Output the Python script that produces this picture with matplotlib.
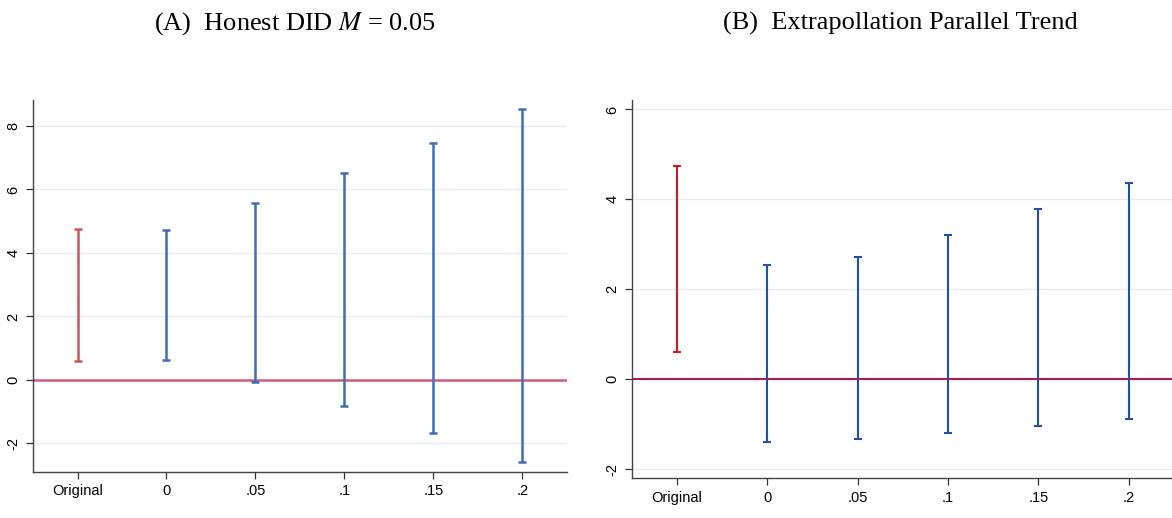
import matplotlib
matplotlib.use("Agg")
import matplotlib.pyplot as plt
import numpy as np

# Data (confidence interval bounds).
labels = ['Original', '0', '.05', '.1', '.15', '.2']

a_lower = [0.61, 0.63, -0.08, -0.83, -1.68, -2.58]
a_upper = [4.76, 4.72, 5.57, 6.52, 7.47, 8.55]

b_lower = [0.60, -1.39, -1.33, -1.19, -1.03, -0.88]
b_upper = [4.74, 2.55, 2.72, 3.20, 3.78, 4.36]

a_ticks = [-2, 0, 2, 4, 6, 8]
b_ticks = [-2, 0, 2, 4, 6]

plt.rcParams['font.family'] = ['Liberation Sans', 'DejaVu Sans']
plt.rcParams['mathtext.fontset'] = 'stix'

fig = plt.figure(figsize=(11.72, 5.18), dpi=100)
ax_a = fig.add_axes([0.0282, 0.0894, 0.4554, 0.7176])
ax_b = fig.add_axes([0.539, 0.0766, 0.4627, 0.7303])


def draw_panel(ax, lower, upper, ticks, ylim, c_orig, c_rest, c_zero, lw):
    x = np.arange(len(labels))
    lower = np.array(lower)
    upper = np.array(upper)
    colors = [c_orig] + [c_rest] * (len(labels) - 1)
    for xi, lo, hi, c in zip(x, lower, upper, colors):
        ax.vlines(xi, lo, hi, color=c, lw=lw, zorder=3)
        ax.hlines([lo, hi], xi - 0.045, xi + 0.045, color=c, lw=lw, zorder=3)
    ax.axhline(0, color=c_zero, lw=lw, zorder=2)
    for t in ticks:
        if t != 0:
            ax.axhline(t, color='#e6eef0', lw=1.0, zorder=1)
    ax.set_xlim(-0.5, len(labels) - 0.5)
    ax.set_ylim(*ylim)
    ax.set_xticks(x)
    ax.set_xticklabels(labels, fontsize=10.5)
    ax.set_yticks(ticks)
    ax.set_yticklabels([str(t) for t in ticks], fontsize=10.5, rotation=90, va='center')
    ax.tick_params(direction='out', length=5, width=0.9, colors='#333333', labelcolor='black', pad=4)
    for side in ['top', 'right']:
        ax.spines[side].set_visible(False)
    for side in ['left', 'bottom']:
        ax.spines[side].set_color('#444444')
        ax.spines[side].set_linewidth(1.0)


draw_panel(ax_a, a_lower, a_upper, a_ticks, (-2.89, 8.82),
           '#c8585a', '#3f6db4', '#d25a78', 1.8)
draw_panel(ax_b, b_lower, b_upper, b_ticks, (-2.2, 6.21),
           '#c81e22', '#2150a8', '#b8174a', 1.5)

fig.text(0.252, 0.955, r'(A)  Honest DID $M$ = 0.05', ha='center', va='center',
         fontsize=19, family=['Liberation Serif', 'DejaVu Serif'])
fig.text(0.768, 0.955, '(B)  Extrapollation Parallel Trend', ha='center', va='center',
         fontsize=19, family=['Liberation Serif', 'DejaVu Serif'])

fig.savefig('out.png', dpi=100)
